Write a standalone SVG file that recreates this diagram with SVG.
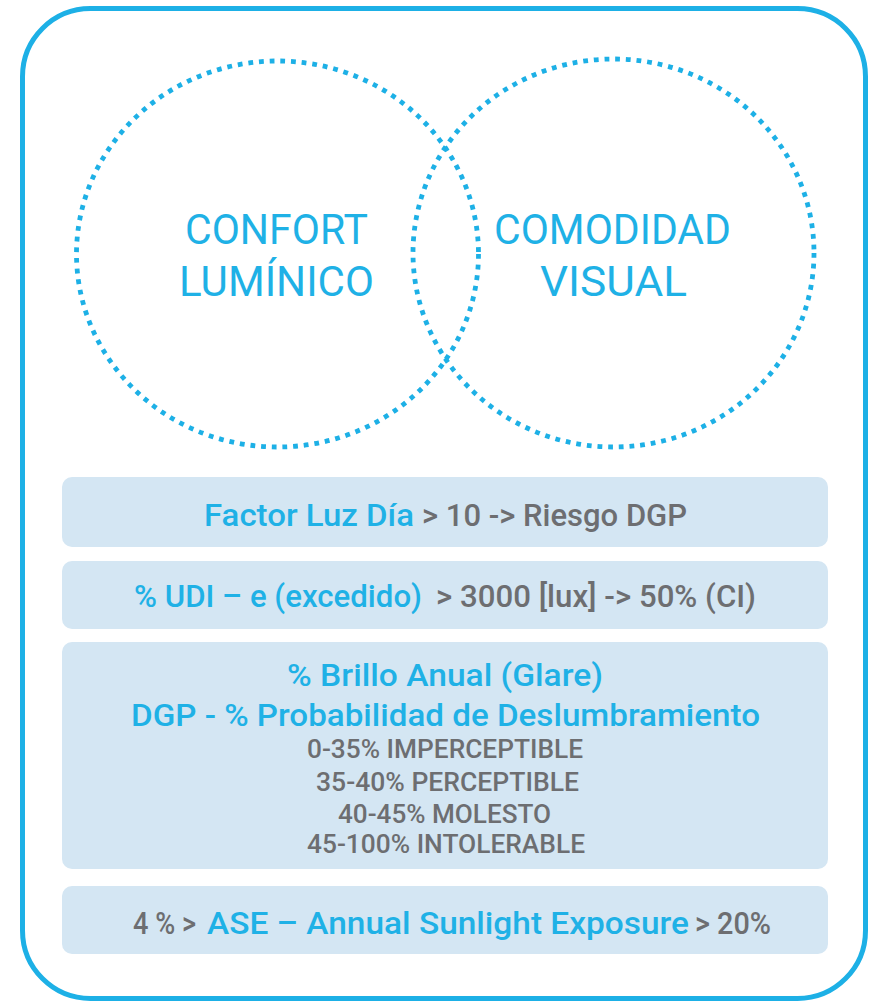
<svg xmlns="http://www.w3.org/2000/svg" width="877" height="1002" viewBox="0 0 877 1002">
<style>
.frame{fill:none;stroke:#1db0e6;stroke-width:5}
.ring{fill:none;stroke:#1db0e6;stroke-width:4.8;stroke-dasharray:4.8 5.9}
.box{fill:#d4e6f3}
.t{font-family:Roboto,"Liberation Sans",Arial,sans-serif}
.big{font-size:43px;fill:#1fb1e6;font-weight:400}
.mid{font-size:32px;font-weight:500}
.sm{font-size:25px;fill:#6d6e71;font-weight:500}
.b{fill:#1fb1e6}
.g{fill:#6d6e71}
</style>
<rect class="frame" x="22.5" y="8.5" width="843" height="990" rx="68" ry="68"/>
<g id="confort-luminico">
<ellipse class="ring" cx="277.5" cy="254" rx="201" ry="193"/>
<text class="t big" x="185" y="244" textLength="183" lengthAdjust="spacingAndGlyphs">CONFORT</text>
<text class="t big" x="179" y="296" textLength="195" lengthAdjust="spacingAndGlyphs">LUMÍNICO</text>
</g>
<g id="comodidad-visual">
<ellipse class="ring" cx="613.5" cy="253" rx="200.5" ry="194"/>
<text class="t big" x="494" y="244" textLength="237" lengthAdjust="spacingAndGlyphs">COMODIDAD</text>
<text class="t big" x="540" y="296" textLength="147" lengthAdjust="spacingAndGlyphs">VISUAL</text>
</g>
<g id="factor-luz-dia">
<rect class="box" x="62" y="477" width="766" height="70" rx="10"/>
<text class="t mid b" x="204" y="526" textLength="210" lengthAdjust="spacingAndGlyphs">Factor Luz Día</text>
<text class="t mid g" x="422" y="526" textLength="265" lengthAdjust="spacingAndGlyphs">&gt; 10 -&gt; Riesgo DGP</text>
</g>
<g id="udi-e">
<rect class="box" x="62" y="561" width="766" height="68" rx="10"/>
<text class="t mid b" x="134" y="607" textLength="288" lengthAdjust="spacingAndGlyphs">% UDI – e (excedido)</text>
<text class="t mid g" x="436" y="607" textLength="320" lengthAdjust="spacingAndGlyphs">&gt; 3000 [lux] -&gt; 50% (CI)</text>
</g>
<g id="brillo-anual">
<rect class="box" x="62" y="642" width="766" height="227" rx="10"/>
<text class="t mid b" x="287" y="686" textLength="316" lengthAdjust="spacingAndGlyphs">% Brillo Anual (Glare)</text>
<text class="t mid b" x="131" y="726" textLength="629" lengthAdjust="spacingAndGlyphs">DGP - % Probabilidad de Deslumbramiento</text>
<text class="t sm" x="307" y="758" textLength="276" lengthAdjust="spacingAndGlyphs">0-35% IMPERCEPTIBLE</text>
<text class="t sm" x="316" y="791" textLength="263" lengthAdjust="spacingAndGlyphs">35-40% PERCEPTIBLE</text>
<text class="t sm" x="338" y="823" textLength="213" lengthAdjust="spacingAndGlyphs">40-45% MOLESTO</text>
<text class="t sm" x="307" y="853" textLength="278" lengthAdjust="spacingAndGlyphs">45-100% INTOLERABLE</text>
</g>
<g id="ase">
<rect class="box" x="62" y="886" width="766" height="68" rx="10"/>
<text class="t mid g" x="133" y="934" textLength="63" lengthAdjust="spacingAndGlyphs">4 % &gt;</text>
<text class="t mid b" x="207" y="934" textLength="482" lengthAdjust="spacingAndGlyphs">ASE – Annual Sunlight Exposure</text>
<text class="t mid g" x="695" y="934" textLength="76" lengthAdjust="spacingAndGlyphs">&gt; 20%</text>
</g>
<g id="connectors"/>
</svg>
